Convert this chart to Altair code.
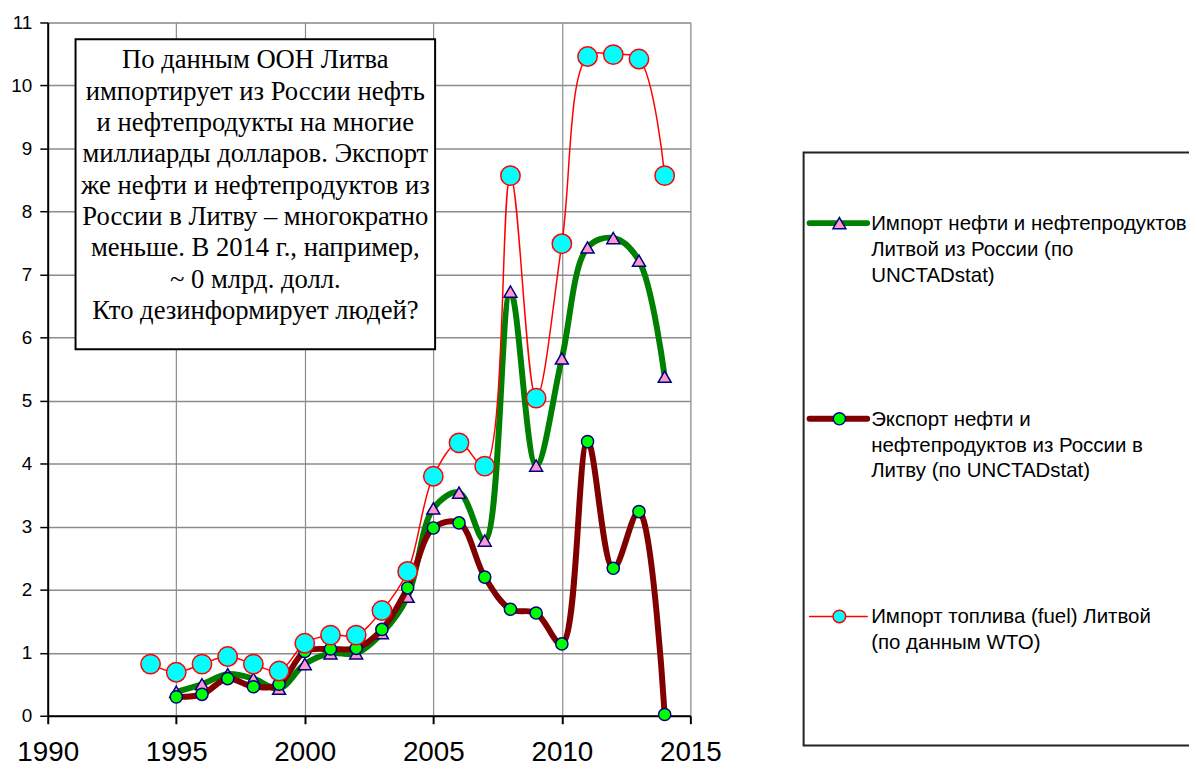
import altair as alt
import pandas as pd

# ---- data ----
years_fuel = list(range(1994, 2015))
fuel_import = [0.82, 0.69, 0.82, 0.94, 0.82, 0.71, 1.15, 1.28, 1.28, 1.67, 2.29,
               3.80, 4.33, 3.96, 8.57, 5.04, 7.49, 10.46, 10.49, 10.42, 8.57]
years_un = list(range(1995, 2015))
oil_import = [0.38, 0.50, 0.66, 0.59, 0.43, 0.82, 0.99, 0.99, 1.31, 1.89,
              3.29, 3.54, 2.78, 6.73, 3.97, 5.67, 7.43, 7.58, 7.22, 5.38]
oil_export = [0.30, 0.34, 0.59, 0.46, 0.50, 1.02, 1.06, 1.07, 1.37, 2.03,
              2.98, 3.06, 2.20, 1.69, 1.63, 1.14, 4.35, 2.34, 3.24, 0.02]

series_names = [
    "Импорт нефти и нефтепродуктов\nЛитвой из России (по\nUNCTADstat)",
    "Экспорт нефти и\nнефтепродуктов из России в\nЛитву (по UNCTADstat)",
    "Импорт топлива (fuel) Литвой\n(по данным WTO)",
]
note_lines = [
    "По данным ООН Литва",
    "импортирует из России нефть",
    "и нефтепродукты на многие",
    "миллиарды долларов. Экспорт",
    "же нефти и нефтепродуктов из",
    "России в Литву – многократно",
    "меньше. В 2014 г., например,",
    "~ 0 млрд. долл.",
    "Кто дезинформирует людей?",
]
x_ticks = [1990, 1995, 2000, 2005, 2010, 2015]
y_grid = [i * 0.5 for i in range(23)]

df_fuel = pd.DataFrame({"year": years_fuel, "value": fuel_import})
df_imp = pd.DataFrame({"year": years_un, "value": oil_import})
df_exp = pd.DataFrame({"year": years_un, "value": oil_export})
one = pd.DataFrame({"k": [0]})

W, H = 647, 698
GREEN, BROWN, RED = "#008000", "#800000", "#FF0000"
CURVE = "catmull-rom"

xs = alt.Scale(domain=[1990, 2015], nice=False)
ys = alt.Scale(domain=[0, 11], nice=False)

x_axis = alt.Axis(values=x_ticks, format="d", title=None, grid=True,
                  gridColor="#8c8c8c", gridWidth=1.2,
                  domainColor="black", domainWidth=2, tickColor="black",
                  tickWidth=2, tickSize=8, labelFontSize=28,
                  labelFont="Liberation Sans", labelColor="black",
                  labelPadding=15, labelFlush=False, labelOverlap=False)
y_axis = alt.Axis(values=y_grid, title=None, grid=True,
                  gridColor={"condition": {"test": "datum.value % 1", "value": "#c8c8c8"},
                             "value": "#8c8c8c"},
                  gridWidth=1.5,
                  tickOpacity={"condition": {"test": "datum.value % 1", "value": 0},
                               "value": 1},
                  labelExpr="datum.value % 1 ? '' : format(datum.value, 'd')",
                  domainColor="black", domainWidth=2, tickColor="black",
                  tickWidth=1.5, tickSize=8, labelFontSize=19,
                  labelFont="Liberation Sans", labelColor="black",
                  labelPadding=8, labelOverlap=False, labelFlush=False)

X = alt.X("year:Q", scale=xs, axis=x_axis)
Y = alt.Y("value:Q", scale=ys, axis=y_axis)
Xn = alt.X("year:Q", scale=xs)
Yn = alt.Y("value:Q", scale=ys)

base_imp = alt.Chart(df_imp)
imp_line = base_imp.mark_line(color=GREEN, strokeWidth=6, interpolate=CURVE).encode(x=X, y=Y)
imp_pts = base_imp.mark_point(shape="triangle-up", size=170, filled=True, fill="#FF99CC",
                              stroke="#000080", strokeWidth=1.5, opacity=1).encode(x=Xn, y=Yn)

base_exp = alt.Chart(df_exp)
exp_line = base_exp.mark_line(color=BROWN, strokeWidth=6, interpolate=CURVE).encode(x=Xn, y=Yn)
exp_pts = base_exp.mark_point(shape="circle", size=150, filled=True, fill="#00FF00",
                              stroke="#000080", strokeWidth=1.5, opacity=1).encode(x=Xn, y=Yn)

base_fuel = alt.Chart(df_fuel)
fuel_line = base_fuel.mark_line(color=RED, strokeWidth=1.5, interpolate=CURVE).encode(x=Xn, y=Yn)
fuel_pts = base_fuel.mark_point(shape="circle", size=380, filled=True, fill="#00FFFF",
                                stroke=RED, strokeWidth=1.5, opacity=1).encode(x=Xn, y=Yn)

# annotation box
note_box = alt.Chart(one).mark_rect(fill="white", stroke="black", strokeWidth=2).encode(
    x=alt.value(28), x2=alt.value(390), y=alt.value(17), y2=alt.value(329))
note_text = alt.Chart(one).mark_text(
    lineBreak="\n", align="center", baseline="alphabetic", font="Liberation Serif",
    fontSize=26.8, lineHeight=31.6, color="black").encode(
    x=alt.value(209), y=alt.value(46), text=alt.value("\n".join(note_lines)))

# legend
leg_box = alt.Chart(one).mark_rect(fill="white", stroke="#222", strokeWidth=2).encode(
    x=alt.value(761), x2=alt.value(1170), y=alt.value(131), y2=alt.value(728))

leg_rows = [202, 399, 598]
leg_layers = []
styles = [
    (GREEN, 6, dict(shape="triangle-up", size=170, fill="#FF99CC", stroke="#000080")),
    (BROWN, 6, dict(shape="circle", size=150, fill="#00FF00", stroke="#000080")),
    (RED, 1.5, dict(shape="circle", size=160, fill="#00FFFF", stroke=RED)),
]
for row, name, (col, sw, pst) in zip(leg_rows, series_names, styles):
    leg_layers.append(alt.Chart(one).mark_rule(color=col, strokeWidth=sw, strokeCap="round").encode(
        x=alt.value(767), x2=alt.value(825), y=alt.value(row)))
    leg_layers.append(alt.Chart(one).mark_point(filled=True, strokeWidth=1.5, opacity=1, **pst).encode(
        x=alt.value(797), y=alt.value(row)))
    leg_layers.append(alt.Chart(one).mark_text(
        lineBreak="\n", align="left", baseline="alphabetic", font="Liberation Sans",
        fontSize=20.6, lineHeight=26, color="black").encode(
        x=alt.value(829), y=alt.value(row + 7), text=alt.value(name)))

chart = alt.layer(
    imp_line, note_box, note_text, leg_box, *leg_layers,
    imp_pts, exp_line, exp_pts, fuel_line, fuel_pts,
).properties(
    width=W, height=H,
    autosize=alt.AutoSizeParams(type="none"),
    padding={"left": 40, "top": 12, "right": 502, "bottom": 50},
).configure_view(stroke="#8c8c8c", strokeWidth=1.5).configure(background="white")

chart.save("out.html", embed_options={"renderer": "svg", "actions": False})
